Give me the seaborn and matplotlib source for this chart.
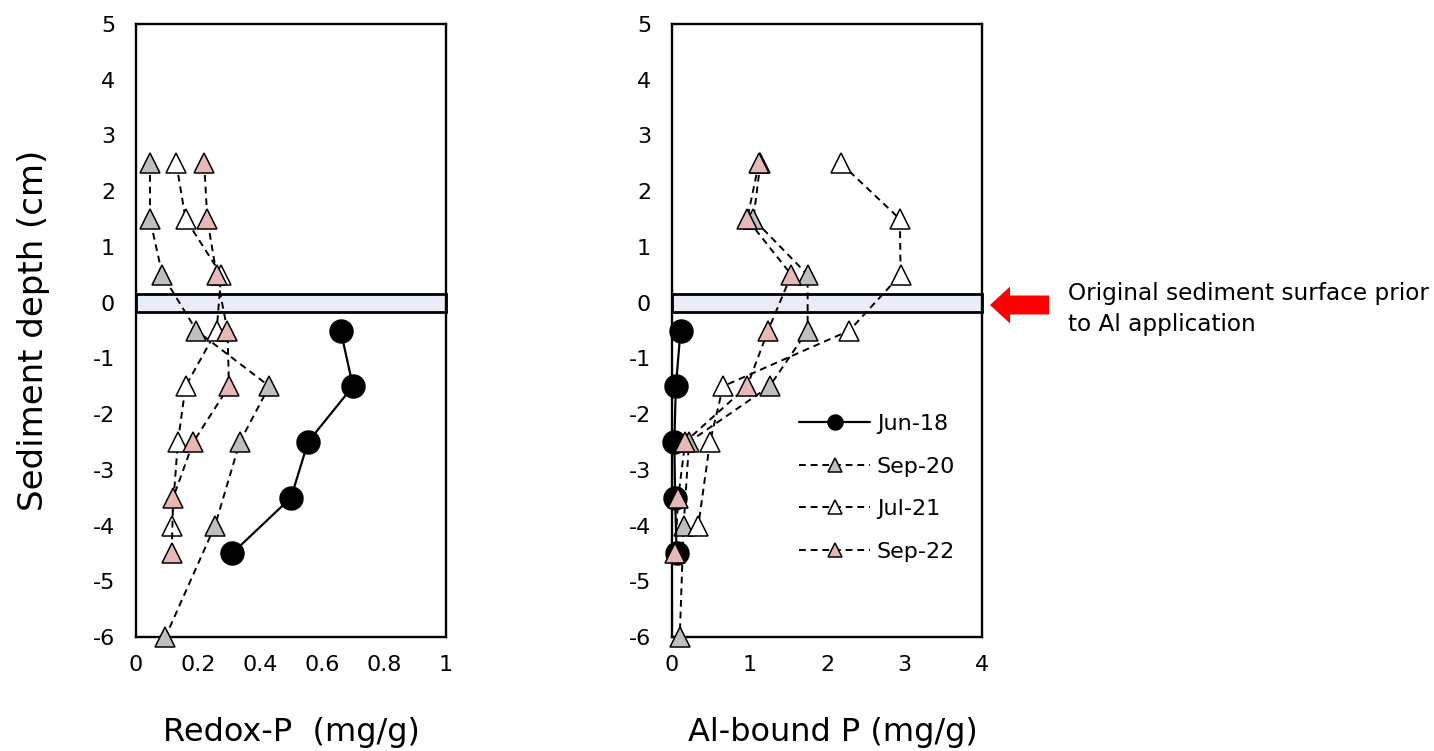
import numpy as np
import pandas as pd
import matplotlib
matplotlib.use("Agg")
import matplotlib.pyplot as plt
import matplotlib.patches as mpatches
import seaborn as sns

# ---- data -------------------------------------------------------------
series_names = ["Jun-18", "Sep-20", "Jul-21", "Sep-22"]

jun18_depth = [-0.5, -1.5, -2.5, -3.5, -4.5]
sep20_depth = [2.5, 1.5, 0.5, -0.5, -1.5, -2.5, -4.0, -6.0]
jul21_depth = [2.5, 1.5, 0.5, -0.5, -1.5, -2.5, -4.0]
sep22_depth = [2.5, 1.5, 0.5, -0.5, -1.5, -2.5, -3.5, -4.5]

# Redox-P (mg/g)
jun18_redox = [0.66, 0.70, 0.555, 0.50, 0.31]
sep20_redox = [0.045, 0.045, 0.085, 0.195, 0.43, 0.335, 0.255, 0.095]
jul21_redox = [0.13, 0.16, 0.275, 0.26, 0.16, 0.135, 0.115]
sep22_redox = [0.22, 0.23, 0.26, 0.295, 0.30, 0.185, 0.12, 0.115]

# Al-bound P (mg/g)
jun18_alp = [0.11, 0.05, 0.03, 0.04, 0.06]
sep20_alp = [1.14, 1.05, 1.75, 1.75, 1.26, 0.22, 0.15, 0.10]
jul21_alp = [2.18, 2.94, 2.95, 2.29, 0.66, 0.49, 0.34]
sep22_alp = [1.12, 0.97, 1.54, 1.24, 0.97, 0.17, 0.08, 0.04]

depth_ticks = list(range(-6, 6))
redox_ticks = [0, 0.2, 0.4, 0.6, 0.8, 1]
alp_ticks = [0, 1, 2, 3, 4]

# ---- styling ------------------------------------------------------------
sns.set_style("white")
plt.rcParams["font.family"] = ["DejaVu Sans"]
plt.rcParams["axes.linewidth"] = 1.7
for key in ("text.color", "axes.labelcolor", "xtick.color", "ytick.color"):
    plt.rcParams[key] = "black"

styles = {
    "Jun-18": dict(marker="o", ms=16.5, mfc="black", ls="-", lw=1.6),
    "Sep-20": dict(marker="^", ms=14.5, mfc="#BFBFBF", ls=(0, (3.5, 2.5)), lw=1.4),
    "Jul-21": dict(marker="^", ms=14.5, mfc="white", ls=(0, (3.5, 2.5)), lw=1.4),
    "Sep-22": dict(marker="^", ms=14.5, mfc="#E6B9B8", ls=(0, (3.5, 2.5)), lw=1.4),
}

W, H = 1434, 751
fig = plt.figure(figsize=(W / 100, H / 100), dpi=100)
ax1 = fig.add_axes([136 / W, 114 / H, 310 / W, 613 / H])
ax2 = fig.add_axes([672 / W, 114 / H, 310 / W, 613 / H])


def fmt(v):
    return f"{v:g}"


def draw_panel(ax, values, xticks, xlabel, xlabel_x):
    depths = [jun18_depth, sep20_depth, jul21_depth, sep22_depth]
    # original sediment surface band
    band = mpatches.Rectangle((0, -0.16), 1, 0.32,
                              transform=ax.get_yaxis_transform(),
                              facecolor="#E8EDF7", edgecolor="black",
                              lw=2.0, zorder=1.5, clip_on=False)
    ax.add_patch(band)
    for name, d, v in zip(series_names, depths, values):
        st = styles[name]
        df = pd.DataFrame({"value": v, "depth": d})
        sns.lineplot(data=df, x="value", y="depth", sort=False,
                     estimator=None, ax=ax, color="black",
                     linestyle=st["ls"], linewidth=st["lw"],
                     marker=st["marker"], markersize=st["ms"],
                     markerfacecolor=st["mfc"], markeredgecolor="black",
                     markeredgewidth=1.1, label=name, legend=False,
                     clip_on=False, zorder=3)
    ax.set_xlim(xticks[0], xticks[-1])
    ax.set_ylim(-6, 5)
    ax.set_xticks(xticks)
    ax.set_xticklabels([fmt(t) for t in xticks])
    ax.set_yticks(depth_ticks)
    ax.set_yticklabels([str(t) for t in depth_ticks])
    ax.tick_params(axis="both", direction="out", length=5, width=1.5,
                   labelsize=16, colors="black")
    ax.tick_params(axis="y", pad=10)
    ax.tick_params(axis="x", pad=8)
    for sp in ax.spines.values():
        sp.set_visible(True)
        sp.set_color("black")
        sp.set_linewidth(1.7)
    ax.set_xlabel(xlabel, fontsize=23)
    ax.xaxis.set_label_coords(xlabel_x, -0.13)
    ax.set_ylabel("")


draw_panel(ax1, [jun18_redox, sep20_redox, jul21_redox, sep22_redox],
           redox_ticks, "Redox-P  (mg/g)", 0.5)
draw_panel(ax2, [jun18_alp, sep20_alp, jul21_alp, sep22_alp],
           alp_ticks, "Al-bound P (mg/g)", 0.52)

ax1.set_ylabel("Sediment depth (cm)", fontsize=24.5)
ax1.yaxis.set_label_coords(-0.277, 0.5)

handles, labels = ax2.get_legend_handles_labels()
ax2.legend(handles, labels, loc="upper left", bbox_to_anchor=(0.41, 0.364),
           frameon=False, fontsize=16, markerscale=0.65, handlelength=3.2,
           handletextpad=0.3, labelspacing=1.02, borderpad=0,
           borderaxespad=0)

# arrow pointing to the surface band
fig.patches.append(mpatches.FancyArrow(
    1049 / W, 1 - 305 / H, -(1049 - 990) / W, 0,
    width=19 / H, head_width=37 / H, head_length=20 / W,
    length_includes_head=True, color="#FF0000", lw=0,
    transform=fig.transFigure, figure=fig))

fig.text(1068 / W, 1 - 309 / H,
         "Original sediment surface prior\nto Al application",
         fontsize=16.7, ha="left", va="center", linespacing=1.4)

fig.savefig("out.png", dpi=100, facecolor="white")
